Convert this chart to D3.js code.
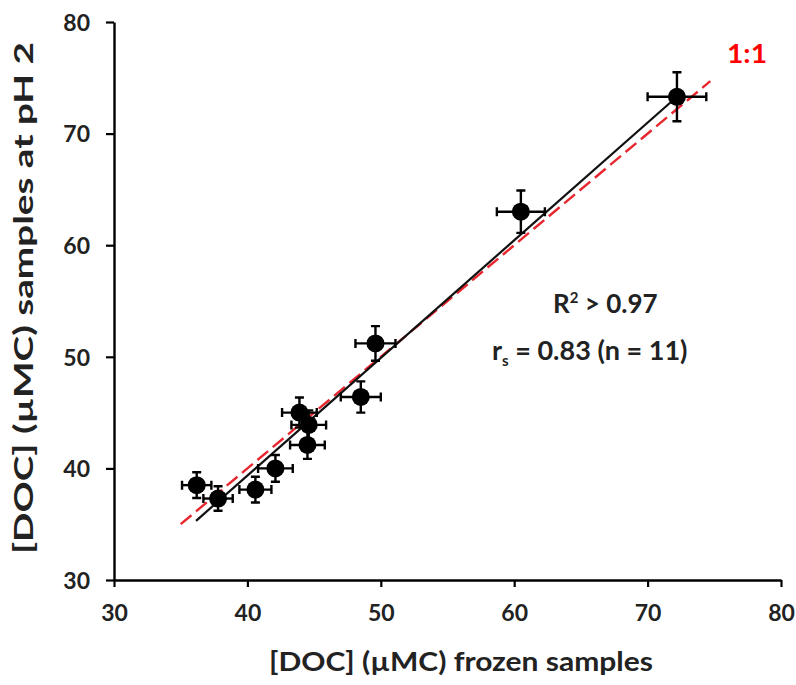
<!DOCTYPE html>
<html>
<head>
<meta charset="utf-8">
<script src="https://cdn.jsdelivr.net/npm/d3@7"></script>
<style>
	body { margin: 0; background: #fff; }
	text { font-family: Lato, 'Open Sans', sans-serif; font-weight: bold; }
</style>
</head>
<body>
<div id="chart"></div>
<script>
'use strict'

// values
const frozen = [36.2, 37.8, 40.6, 42.1, 43.9, 44.6, 44.5, 48.5, 49.6, 60.5, 72.2]
const acidified = [38.5, 37.3, 38.1, 40.0, 45.0, 43.9, 42.1, 46.4, 51.2, 63.0, 73.3]
const frozenErr = [1.1, 1.1, 1.2, 1.3, 1.3, 1.3, 1.3, 1.5, 1.5, 1.8, 2.2]
const acidifiedErr = [1.15, 1.1, 1.15, 1.2, 1.35, 1.3, 1.25, 1.4, 1.55, 1.9, 2.2]
const xTicks = [30, 40, 50, 60, 70, 80]
const yTicks = [30, 40, 50, 60, 70, 80]
const fitLine = {slope: 1.054, intercept: -2.8, from: 36.15, to: 72.2}
const oneToOne = [35, 74.7]

const width = 796
const height = 685
const margin = {top: 22, right: 15, bottom: 105, left: 114}

const svg = d3.select('#chart').append('svg')
	.attr('width', width)
	.attr('height', height)

const x = d3.scaleLinear().domain([30, 80]).range([margin.left, 781])
const y = d3.scaleLinear().domain([30, 80]).range([580, margin.top])

const points = frozen.map((f, i) => {
	return {x: f, y: acidified[i], ex: frozenErr[i], ey: acidifiedErr[i]}
})

// axes
const xAxis = svg.append('g')
	.attr('transform', `translate(0,${y(30)})`)
	.call(d3.axisBottom(x).tickValues(xTicks).tickSize(7).tickSizeOuter(0).tickPadding(18))
const yAxis = svg.append('g')
	.attr('transform', `translate(${x(30)},0)`)
	.call(d3.axisLeft(y).tickValues(yTicks).tickSize(8).tickSizeOuter(0).tickPadding(16))

;[xAxis, yAxis].forEach((ax) => {
	ax.select('.domain').attr('stroke', '#000').attr('stroke-width', 2.4)
	ax.selectAll('.tick line').attr('stroke', '#000').attr('stroke-width', 2.2)
	ax.selectAll('.tick text')
		.attr('fill', '#222')
		.style('font-size', '23px')
		.style('font-family', 'Lato, sans-serif')
		.style('font-weight', 'bold')
})
yAxis.selectAll('.tick text').attr('dy', '0.36em')

// 1:1 line
svg.append('line')
	.attr('x1', x(oneToOne[0]))
	.attr('y1', y(oneToOne[0]))
	.attr('x2', x(oneToOne[1]))
	.attr('y2', y(oneToOne[1]))
	.attr('stroke', '#e8262e')
	.attr('stroke-width', 2.4)
	.attr('stroke-dasharray', '14,6')

// regression line
svg.append('line')
	.attr('x1', x(fitLine.from))
	.attr('y1', y(fitLine.intercept + fitLine.slope * fitLine.from))
	.attr('x2', x(fitLine.to))
	.attr('y2', y(fitLine.intercept + fitLine.slope * fitLine.to))
	.attr('stroke', '#111')
	.attr('stroke-width', 2.2)

// error bars
const cap = 4.5
const bars = svg.append('g')
	.attr('stroke', '#000')
	.attr('stroke-width', 2.4)
	.selectAll('g')
	.data(points)
	.enter()
	.append('g')

bars.append('line')
	.attr('x1', (d) => x(d.x - d.ex))
	.attr('x2', (d) => x(d.x + d.ex))
	.attr('y1', (d) => y(d.y))
	.attr('y2', (d) => y(d.y))
bars.append('line')
	.attr('x1', (d) => x(d.x))
	.attr('x2', (d) => x(d.x))
	.attr('y1', (d) => y(d.y - d.ey))
	.attr('y2', (d) => y(d.y + d.ey))
bars.append('path')
	.attr('fill', 'none')
	.attr('d', (d) => {
		const xl = x(d.x - d.ex)
		const xr = x(d.x + d.ex)
		const yt = y(d.y + d.ey)
		const yb = y(d.y - d.ey)
		const cx = x(d.x)
		const cy = y(d.y)
		return `M${xl},${cy - cap}V${cy + cap}M${xr},${cy - cap}V${cy + cap}` +
			`M${cx - cap},${yt}H${cx + cap}M${cx - cap},${yb}H${cx + cap}`
	})

// markers
svg.append('g')
	.selectAll('circle')
	.data(points)
	.enter()
	.append('circle')
	.attr('cx', (d) => x(d.x))
	.attr('cy', (d) => y(d.y))
	.attr('r', 9)
	.attr('fill', '#000')

// fit text to a width measured on the picture
function fitText(sel, w) {
	sel.attr('textLength', w).attr('lengthAdjust', 'spacingAndGlyphs')
}

// axis titles
svg.append('text')
	.attr('x', 461)
	.attr('y', 671)
	.attr('text-anchor', 'middle')
	.attr('fill', '#222')
	.style('font-size', '27px')
	.text('[DOC] (µMC) frozen samples')
	.call(fitText, 384)

svg.append('text')
	.attr('transform', 'translate(33,298) rotate(-90)')
	.attr('text-anchor', 'middle')
	.attr('fill', '#222')
	.style('font-size', '27px')
	.text('[DOC] (µMC) samples at pH 2')
	.call(fitText, 512)

// 1:1 label
svg.append('text')
	.attr('x', 727)
	.attr('y', 63)
	.attr('fill', '#ff0000')
	.style('font-size', '26px')
	.text('1:1')
	.call(fitText, 40)

// statistics
const r2 = svg.append('text')
	.attr('x', 553)
	.attr('y', 313)
	.attr('fill', '#222')
	.style('font-size', '26px')
r2.append('tspan').text('R')
r2.append('tspan').attr('dy', -10).style('font-size', '15px').text('2')
r2.append('tspan').attr('dy', 10).text(' > 0.97')

const rs = svg.append('text')
	.attr('x', 492)
	.attr('y', 360)
	.attr('fill', '#222')
	.style('font-size', '27px')
rs.append('tspan').text('r')
rs.append('tspan').attr('dy', 6).style('font-size', '15px').text('s')
rs.append('tspan').attr('dy', -6).text(' = 0.83 (n = 11)')
</script>
</body>
</html>
